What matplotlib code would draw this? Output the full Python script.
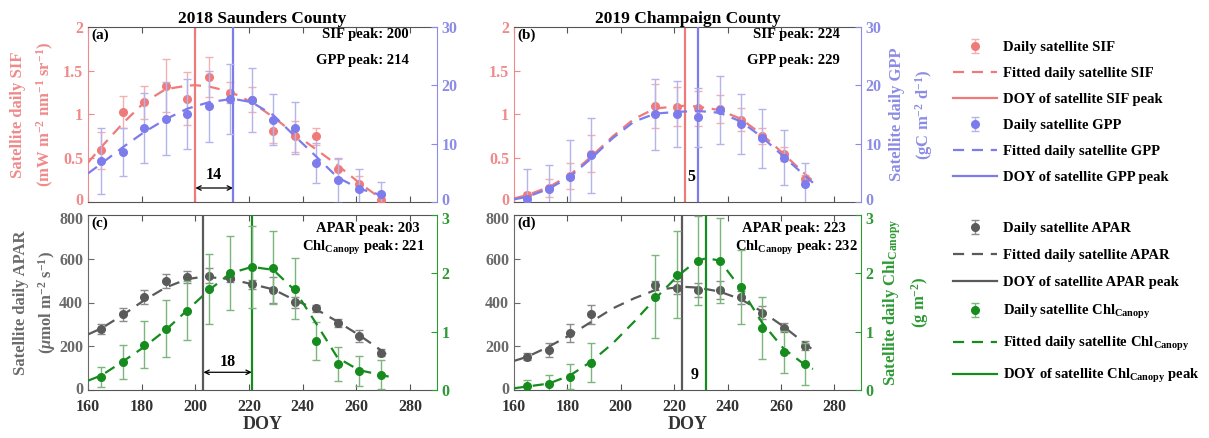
"""
Satellite SIF / GPP / APAR / Chl_Canopy seasonal cycles for two county-years.
Points with error bars, fitted curves and peak-DOY markers, MATLAB-like look.
"""

import matplotlib
matplotlib.use("Agg")
import matplotlib.pyplot as plt
import matplotlib.transforms as mtransforms
from matplotlib.ticker import FormatStrFormatter

plt.rcParams["font.family"] = "Liberation Serif"
plt.rcParams["font.weight"] = "bold"
plt.rcParams["axes.titleweight"] = "bold"
plt.rcParams["axes.labelweight"] = "bold"
plt.rcParams["mathtext.fontset"] = "custom"
plt.rcParams["mathtext.rm"] = "Liberation Serif:bold"
plt.rcParams["mathtext.it"] = "Liberation Serif:italic:bold"
plt.rcParams["mathtext.bf"] = "Liberation Serif:bold"


# ── Data: 2018 Saunders County ─────────────────────────────────────────────
doy_2018 = [165, 173, 181, 189, 197, 205, 213, 221, 229, 237, 245, 253, 261, 269]
sif_2018 = [0.59, 1.03, 1.14, 1.33, 1.18, 1.43, 1.25, 1.17, 0.81, 0.75, 0.75, 0.38, 0.21, 0.02]
sif_err_2018 = [0.21, 0.18, 0.19, 0.30, 0.30, 0.23, 0.12, 0.14, 0.14, 0.18, 0.10, 0.11, 0.09, 0.03]
gpp_2018 = [7.0, 8.6, 12.7, 14.3, 15.0, 16.4, 17.7, 17.5, 14.1, 12.7, 6.7, 3.7, 2.3, 1.3]
gpp_err_2018 = [5.7, 4.1, 6.0, 6.3, 6.0, 6.1, 6.0, 5.5, 4.4, 4.4, 3.4, 3.9, 3.4, 2.1]
apar_2018 = [279, 347, 427, 498, 516, 523, 511, 483, 457, 401, 373, 308, 247, 171]
apar_err_2018 = [23, 30, 32, 32, 29, 35, 18, 20, 60, 25, 15, 18, 29, 17]
chl_2018 = [0.23, 0.48, 0.78, 1.05, 1.36, 1.73, 2.01, 2.11, 2.10, 1.74, 0.84, 0.44, 0.33, 0.26]
chl_err_2018 = [0.17, 0.29, 0.41, 0.49, 0.51, 0.60, 0.63, 0.70, 0.63, 0.52, 0.33, 0.29, 0.26, 0.25]

fit_sif_doy_2018 = [160, 165, 173, 181, 189, 197, 200, 205, 213, 221, 229, 237, 245, 253, 261, 270]
fit_sif_2018 = [0.45, 0.63, 0.90, 1.14, 1.29, 1.33, 1.335, 1.32, 1.26, 1.14, 0.97, 0.78, 0.60, 0.42, 0.22, 0.02]
fit_gpp_doy_2018 = [160, 165, 173, 181, 189, 197, 205, 214, 221, 229, 237, 245, 253, 261, 269, 272]
fit_gpp_2018 = [4.9, 6.6, 9.4, 12.0, 14.2, 16.0, 17.1, 17.7, 17.1, 14.9, 11.3, 7.8, 4.2, 2.3, 1.2, 1.0]
fit_apar_doy_2018 = [160, 165, 173, 181, 189, 197, 203, 213, 221, 229, 237, 245, 253, 261, 269, 272]
fit_apar_2018 = [254, 282, 343, 411, 469, 507, 518, 507, 484, 460, 411, 369, 312, 251, 183, 152]
fit_chl_doy_2018 = [160, 165, 173, 181, 189, 197, 205, 213, 221, 229, 237, 245, 253, 261, 269, 272]
fit_chl_2018 = [0.16, 0.25, 0.49, 0.74, 1.03, 1.37, 1.71, 2.00, 2.11, 2.06, 1.71, 1.14, 0.55, 0.34, 0.26, 0.23]

sif_peak_2018, gpp_peak_2018 = 200, 214
apar_peak_2018, chl_peak_2018 = 203, 221

# ── Data: 2019 Champaign County ────────────────────────────────────────────
doy_2019 = [165, 173, 181, 189, 213, 221, 229, 237, 245, 253, 261, 269]
sif_2019 = [0.08, 0.16, 0.30, 0.55, 1.10, 1.09, 1.07, 1.06, 0.94, 0.75, 0.55, 0.26]
sif_err_2019 = [0.03, 0.10, 0.15, 0.21, 0.25, 0.22, 0.20, 0.16, 0.13, 0.09, 0.08, 0.05]
gpp_2019 = [0.5, 2.2, 4.3, 8.0, 15.0, 15.1, 14.5, 15.8, 13.4, 10.9, 7.6, 3.0]
gpp_err_2019 = [5.2, 4.1, 6.4, 6.4, 6.1, 5.6, 5.0, 5.8, 5.1, 5.1, 4.7, 3.6]
apar_2019 = [152, 183, 259, 346, 478, 468, 457, 457, 424, 354, 285, 203]
apar_err_2019 = [17, 30, 41, 43, 20, 29, 30, 40, 30, 30, 21, 19]
chl_2019 = [0.07, 0.11, 0.23, 0.47, 1.60, 1.98, 2.22, 2.22, 1.77, 1.07, 0.66, 0.45]
chl_err_2019 = [0.11, 0.14, 0.21, 0.33, 0.71, 0.75, 0.77, 0.73, 0.63, 0.53, 0.36, 0.36]

fit_sif_doy_2019 = [160, 165, 173, 181, 189, 197, 205, 213, 224, 229, 237, 245, 253, 261, 269, 272]
fit_sif_2019 = [0.04, 0.08, 0.17, 0.31, 0.52, 0.75, 0.95, 1.07, 1.10, 1.09, 1.05, 0.95, 0.77, 0.55, 0.32, 0.24]
fit_gpp_doy_2019 = [160, 165, 173, 181, 189, 197, 205, 213, 221, 229, 237, 245, 253, 261, 269, 272]
fit_gpp_2019 = [0.45, 0.9, 2.25, 4.35, 7.5, 10.95, 13.8, 15.15, 15.45, 15.6, 15.3, 13.8, 11.1, 7.8, 4.5, 3.3]
fit_apar_doy_2019 = [160, 165, 173, 181, 189, 197, 205, 213, 223, 229, 237, 245, 253, 261, 269, 272]
fit_apar_2019 = [133, 152, 198, 251, 312, 373, 419, 457, 472, 468, 450, 415, 358, 290, 213, 183]
fit_chl_doy_2019 = [160, 165, 173, 181, 189, 197, 205, 213, 221, 228, 232, 237, 245, 253, 261, 269, 272]
fit_chl_2019 = [0.03, 0.06, 0.11, 0.25, 0.49, 0.80, 1.17, 1.57, 1.94, 2.20, 2.26, 2.22, 1.74, 1.15, 0.71, 0.43, 0.36]

sif_peak_2019, gpp_peak_2019 = 224, 229
apar_peak_2019, chl_peak_2019 = 223, 232

titles = ["2018 Saunders County", "2019 Champaign County"]
x_ticks = [160, 180, 200, 220, 240, 260, 280]


# ── Styling ────────────────────────────────────────────────────────────────
C_SIF, E_SIF, T_SIF = "#F07A7A", "#F4B0B0", "#F08A8A"
C_GPP, E_GPP, T_GPP = "#7C7CEC", "#B4B4EC", "#8C8CE6"
C_APAR, E_APAR, T_APAR = "#5A5A5A", "#8C8C8C", "#6A6A6A"
C_CHL, E_CHL, T_CHL = "#168C1E", "#7DB67D", "#2E9A34"
C_FRAME = "#555555"

W, H = 1209, 438


def px_axes(left, top, right, bottom):
    """Axes rect from pixel edges of the 1209x438 canvas."""
    return [left / W, 1 - bottom / H, (right - left) / W, (bottom - top) / H]


def draw_series(ax, doy, vals, errs, fit_doy, fit_vals, peak, color, ecolor):
    eb = ax.errorbar(doy, vals, yerr=errs, fmt="o", ms=5.5, color=color,
                     mfc=color, mec=color, ecolor=ecolor, elinewidth=1.0,
                     capsize=3, capthick=1.0, zorder=3)
    fit, = ax.plot(fit_doy, fit_vals, ls=(0, (5, 3.5)), lw=1.6, color=color, zorder=4)
    vl = ax.axvline(peak, color=color, lw=1.6, zorder=2)
    return eb, fit, vl


def style_pair(ax, ax2, lcol, rcol, ylim_l, ylim_r, lticks, rticks, show_x):
    ax.set_xlim(160, 290)
    ax.set_xticks(x_ticks)
    ax.set_ylim(*ylim_l)
    ax.set_yticks(lticks)
    ax2.set_ylim(*ylim_r)
    ax2.set_yticks(rticks)
    ax.yaxis.set_major_formatter(FormatStrFormatter("%g"))
    ax2.yaxis.set_major_formatter(FormatStrFormatter("%g"))
    ax.tick_params(axis="x", direction="in", top=True, length=4, color=C_FRAME,
                   labelbottom=show_x, labelsize=11.5, labelcolor="#333333", pad=6.5)
    ax.tick_params(axis="y", direction="in", length=4, color=lcol,
                   labelcolor=lcol, labelsize=11.5)
    ax2.tick_params(axis="y", direction="in", length=4, color=rcol,
                    labelcolor=rcol, labelsize=11.5)
    ax2.tick_params(axis="x", which="both", bottom=False, top=False,
                    labelbottom=False)
    for s in ("top", "bottom"):
        ax.spines[s].set_color(C_FRAME)
        ax2.spines[s].set_visible(False)
    ax.spines["left"].set_color(lcol)
    ax.spines["right"].set_visible(False)
    ax2.spines["left"].set_visible(False)
    ax2.spines["right"].set_color(rcol)


def nudge_label(label, dy_px):
    """Shift one tick label vertically by a few pixels."""
    off = mtransforms.ScaledTranslation(0, dy_px / 100, fig.dpi_scale_trans)
    label.set_transform(label.get_transform() + off)


def gap_arrow(ax, p1, p2, y_arrow, y_text):
    ax.annotate("", xy=(p2, y_arrow), xytext=(p1, y_arrow),
                arrowprops=dict(arrowstyle="<->", color="k", lw=0.9,
                                mutation_scale=8, shrinkA=0, shrinkB=0))
    ax.text((p1 + p2) / 2, y_text, str(p2 - p1), ha="center", va="center",
            fontsize=11.5)


fig = plt.figure(figsize=(W / 100, H / 100), dpi=100)

ax_a = fig.add_axes(px_axes(88, 27, 437, 202))
ax_b = fig.add_axes(px_axes(514, 27, 861, 202))
ax_c = fig.add_axes(px_axes(88, 215, 437, 390))
ax_d = fig.add_axes(px_axes(514, 215, 861, 390))

# ── (a) / (b): SIF and GPP ─────────────────────────────────────────────────
top_sets = [
    (ax_a, doy_2018, sif_2018, sif_err_2018, fit_sif_doy_2018, fit_sif_2018, sif_peak_2018,
     gpp_2018, gpp_err_2018, fit_gpp_doy_2018, fit_gpp_2018, gpp_peak_2018),
    (ax_b, doy_2019, sif_2019, sif_err_2019, fit_sif_doy_2019, fit_sif_2019, sif_peak_2019,
     gpp_2019, gpp_err_2019, fit_gpp_doy_2019, fit_gpp_2019, gpp_peak_2019),
]
top_handles = None
top_twins = []
for (ax, doy, sif, sif_e, fsd, fs, sp, gpp, gpp_e, fgd, fg, gp) in top_sets:
    ax2 = ax.twinx()
    h_sif = draw_series(ax, doy, sif, sif_e, fsd, fs, sp, C_SIF, E_SIF)
    h_gpp = draw_series(ax2, doy, gpp, gpp_e, fgd, fg, gp, C_GPP, E_GPP)
    style_pair(ax, ax2, T_SIF, T_GPP, (0, 2), (0, 30),
               [0, 0.5, 1, 1.5, 2], [0, 10, 20, 30], show_x=False)
    # lowest labels sit just above the gap between the panel rows
    nudge_label(ax.yaxis.get_major_ticks()[0].label1, 2.5)
    nudge_label(ax2.yaxis.get_major_ticks()[0].label2, 2.5)
    xr = 0.92 if ax is ax_a else 0.94
    ax.text(xr, 0.955, f"SIF peak: {sp}", transform=ax.transAxes,
            ha="right", va="center", fontsize=10.5)
    ax.text(xr, 0.81, f"GPP peak: {gp}", transform=ax.transAxes,
            ha="right", va="center", fontsize=10.5)
    top_twins.append(ax2)
    if top_handles is None:
        top_handles = [h_sif[0], h_sif[1], h_sif[2], h_gpp[0], h_gpp[1], h_gpp[2]]

gap_arrow(ax_a, sif_peak_2018, gpp_peak_2018, 0.16, 0.31)
ax_b.text((sif_peak_2019 + gpp_peak_2019) / 2, 0.29, str(gpp_peak_2019 - sif_peak_2019),
          ha="center", va="center", fontsize=11.5)

ax_a.set_ylabel("Satellite daily SIF\n(mW m$^{-2}$ nm$^{-1}$ sr$^{-1}$)",
                color=T_SIF, fontsize=12, linespacing=1.55, labelpad=5)
top_twins[1].set_ylabel("Satellite daily GPP\n(gC m$^{-2}$ d$^{-1}$)",
                        color=T_GPP, fontsize=12, linespacing=1.55,
                        rotation=90, labelpad=5)

# ── (c) / (d): APAR and Chl_Canopy ─────────────────────────────────────────
bot_sets = [
    (ax_c, doy_2018, apar_2018, apar_err_2018, fit_apar_doy_2018, fit_apar_2018, apar_peak_2018,
     chl_2018, chl_err_2018, fit_chl_doy_2018, fit_chl_2018, chl_peak_2018),
    (ax_d, doy_2019, apar_2019, apar_err_2019, fit_apar_doy_2019, fit_apar_2019, apar_peak_2019,
     chl_2019, chl_err_2019, fit_chl_doy_2019, fit_chl_2019, chl_peak_2019),
]
bot_handles = None
bot_twins = []
for (ax, doy, apar, apar_e, fad, fa, ap, chl, chl_e, fcd, fc, cp) in bot_sets:
    ax2 = ax.twinx()
    h_apar = draw_series(ax, doy, apar, apar_e, fad, fa, ap, C_APAR, E_APAR)
    h_chl = draw_series(ax2, doy, chl, chl_e, fcd, fc, cp, C_CHL, E_CHL)
    style_pair(ax, ax2, T_APAR, T_CHL, (0, 800), (0, 3),
               [0, 200, 400, 600, 800], [0, 1, 2, 3], show_x=True)
    ticks_l = ax.yaxis.get_major_ticks()
    nudge_label(ticks_l[-1].label1, -2.5)
    nudge_label(ticks_l[0].label1, 2.0)
    nudge_label(ax2.yaxis.get_major_ticks()[-1].label2, -2.5)
    xr = 0.95 if ax is ax_c else 0.955
    ax.text(xr, 0.925, f"APAR peak: {ap}", transform=ax.transAxes,
            ha="right", va="center", fontsize=10.5)
    ax.text(0.965 if ax is ax_c else 0.99, 0.81,
            "Chl$_{\\mathrm{Canopy}}$ peak: " + str(cp), transform=ax.transAxes,
            ha="right", va="center", fontsize=10.5)
    ax.set_xlabel("DOY", fontsize=13, color="#333333", labelpad=0.5)
    bot_twins.append(ax2)
    if bot_handles is None:
        bot_handles = [h_apar[0], h_apar[1], h_apar[2], h_chl[0], h_chl[1], h_chl[2]]

gap_arrow(ax_c, apar_peak_2018, chl_peak_2018, 81, 130)
ax_d.text((apar_peak_2019 + chl_peak_2019) / 2, 69, str(chl_peak_2019 - apar_peak_2019),
          ha="center", va="center", fontsize=11.5)

ax_c.set_ylabel("Satellite daily APAR\n($\\mu$mol m$^{-2}$ s$^{-1}$)",
                color=T_APAR, fontsize=12, linespacing=1.45, labelpad=1)
bot_twins[1].set_ylabel("Satellite daily Chl$_{\\mathrm{Canopy}}$\n(g m$^{-2}$)",
                        color=T_CHL, fontsize=12, linespacing=1.45,
                        rotation=90, labelpad=5)

# panel letters and titles
for ax, letter in zip([ax_a, ax_b, ax_c, ax_d], ["(a)", "(b)", "(c)", "(d)"]):
    ax.text(0.01, 0.95, letter, transform=ax.transAxes, ha="left", va="center",
            fontsize=11, zorder=10)
ax_a.set_title(titles[0], fontsize=12.5, pad=3)
ax_b.set_title(titles[1], fontsize=12.5, pad=3)

# ── Legend ─────────────────────────────────────────────────────────────────
top_labels = ["Daily satellite SIF", "Fitted daily satellite SIF",
              "DOY of satellite SIF peak", "Daily satellite GPP",
              "Fitted daily satellite GPP", "DOY of satellite GPP peak"]
bot_labels = ["Daily satellite APAR", "Fitted daily satellite APAR",
              "DOY of satellite APAR peak", "Daily satellite Chl$_{\\mathrm{Canopy}}$",
              "Fitted daily satellite Chl$_{\\mathrm{Canopy}}$",
              "DOY of satellite Chl$_{\\mathrm{Canopy}}$ peak"]

leg_kw = dict(loc="upper left", frameon=False, fontsize=10.5, handlelength=3.0,
              handletextpad=0.4, borderpad=0, borderaxespad=0)
fig.legend(top_handles, top_labels, bbox_to_anchor=(953 / W, 1 - 41 / H),
           labelspacing=0.87, **leg_kw)
fig.legend(bot_handles, bot_labels, bbox_to_anchor=(953 / W, 1 - 222 / H),
           labelspacing=0.95, **leg_kw)

fig.savefig("out.png", dpi=100)
